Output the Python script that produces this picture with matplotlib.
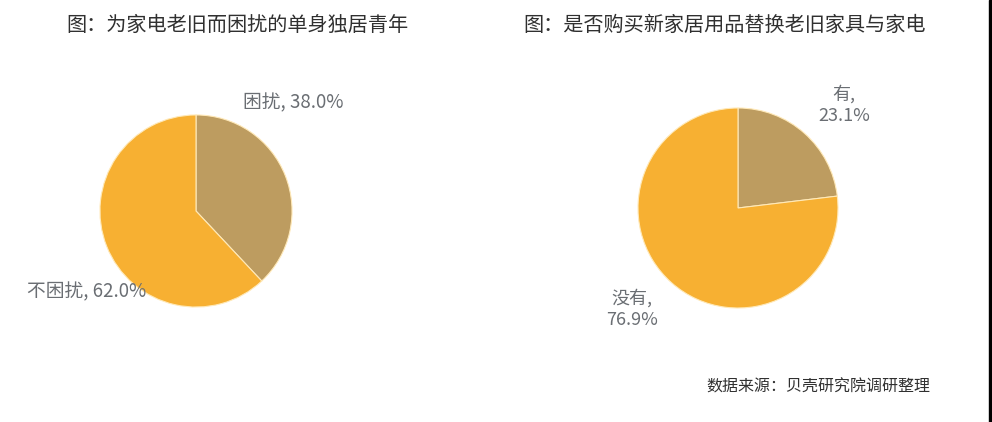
import matplotlib
matplotlib.use("Agg")
import matplotlib.pyplot as plt
from matplotlib.patches import Rectangle

plt.rcParams['font.family'] = ['Noto Sans CJK SC', 'DejaVu Sans']

W, H = 992, 422

# left chart data
left_title = "图：为家电老旧而困扰的单身独居青年"
left_labels = ["困扰", "不困扰"]
left_values = [38.0, 62.0]

# right chart data
right_title = "图：是否购买新家居用品替换老旧家具与家电"
right_labels = ["有", "没有"]
right_values = [23.1, 76.9]

source = "数据来源：贝壳研究院调研整理"

colors = ["#BD9C60", "#F7B032"]
label_color = "#6a6e73"
title_color = "#303030"

fig = plt.figure(figsize=(W / 100, H / 100), dpi=100)


def px(x, y):
    return x / W, 1 - y / H


def pie_axes(cx, cy, r, values):
    ax = fig.add_axes([(cx - r) / W, 1 - (cy + r) / H, 2 * r / W, 2 * r / H])
    ax.pie(values, colors=colors, startangle=90, counterclock=False,
           wedgeprops=dict(linewidth=0.8, edgecolor="#ffe9b8"))
    ax.set_xlim(-1.01, 1.01)
    ax.set_ylim(-1.01, 1.01)
    ax.set_aspect("equal")
    return ax


pie_axes(196, 211, 97, left_values)
pie_axes(738, 208, 101, right_values)

# titles
fig.text(*px(237, 25), left_title, ha="center", va="center", fontsize=14.5, color=title_color)
fig.text(*px(725, 25), right_title, ha="center", va="center", fontsize=14.5, color=title_color)

# left labels
fig.text(*px(243, 103), f"{left_labels[0]}, {left_values[0]:.1f}%", ha="left", va="center",
         fontsize=13.5, color=label_color)
fig.text(*px(27, 292), f"{left_labels[1]}, {left_values[1]:.1f}%", ha="left", va="center",
         fontsize=13.5, color=label_color)

# right labels
fig.text(*px(844, 105), f"{right_labels[0]},\n{right_values[0]:.1f}%", ha="center", va="center",
         fontsize=13, color=label_color, linespacing=1.3)
fig.text(*px(632, 309), f"{right_labels[1]},\n{right_values[1]:.1f}%", ha="center", va="center",
         fontsize=13, color=label_color, linespacing=1.3)

fig.text(*px(930, 387), source, ha="right", va="center", fontsize=11.5, color=title_color)

# dark strip on the right edge
fig.patches.append(Rectangle((989 / W, 0), 3 / W, 1, transform=fig.transFigure,
                             color="black", zorder=5))

fig.savefig("out.png", dpi=100)
